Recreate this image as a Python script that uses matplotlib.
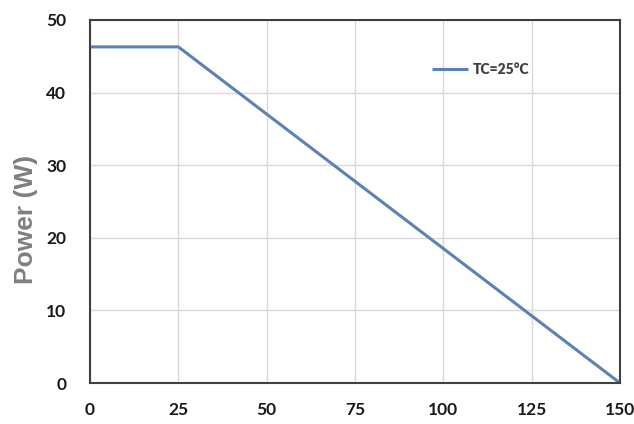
import matplotlib
matplotlib.use("Agg")
import matplotlib.pyplot as plt

temps = [0, 25, 150]
power = [46.3, 46.3, 0]
xticks = [0, 25, 50, 75, 100, 125, 150]
yticks = [0, 10, 20, 30, 40, 50]
series_label = "TC=25°C"

fig = plt.figure(figsize=(6.34, 4.24), dpi=100)
ax = fig.add_axes([90/634, (424-383)/424, 530/634, 363/424])
ax.plot(temps, power, color="#5b82b5", lw=2.2, label=series_label, solid_capstyle="butt")
ax.set_xlim(0, 150)
ax.set_ylim(0, 50)
ax.set_xticks(xticks)
ax.set_yticks(yticks)
ax.grid(True, color="#d9d9d9", lw=1)
ax.set_axisbelow(True)
for s in ax.spines.values():
    s.set_color("#404040")
    s.set_linewidth(1.5)
ax.tick_params(length=0, labelsize=12.5, labelcolor="#1a1a1a")
ax.tick_params(axis="x", pad=14)
ax.tick_params(axis="y", pad=17)
for lab in ax.get_xticklabels() + ax.get_yticklabels():
    lab.set_fontfamily("Lato")
    lab.set_fontweight("bold")
ax.set_ylabel("Power (W)", fontsize=19, fontweight="bold", color="#7f7f7f",
              fontfamily="Liberation Sans")
ax.yaxis.set_label_coords(-0.098, 0.45)
leg = ax.legend(loc="upper left", bbox_to_anchor=(0.622, 0.915), frameon=False,
                prop={"family": "Lato", "weight": "heavy", "size": 10},
                handlelength=2.6, handletextpad=0.3)
for t in leg.get_texts():
    t.set_color("#404040")
fig.savefig("out.png", dpi=100)
